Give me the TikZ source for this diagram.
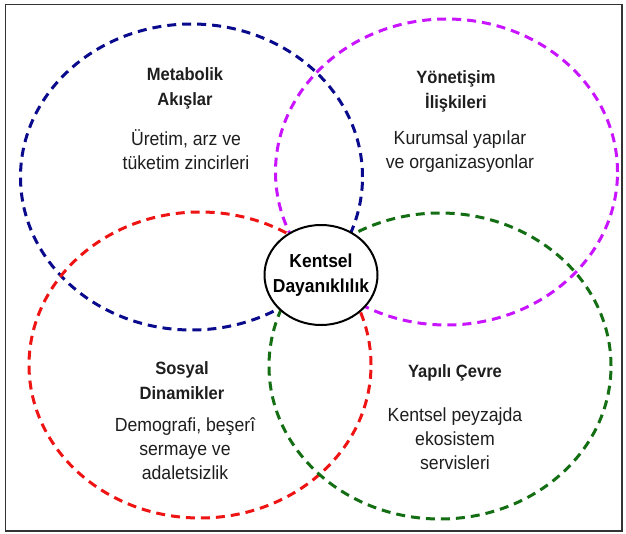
\documentclass[tikz,border=0pt]{standalone}
\usepackage{fontspec}
\setmainfont{Liberation Sans}[FakeStretch=0.93]
\usetikzlibrary{shapes.geometric}
\definecolor{cblue}{RGB}{10,10,140}
\definecolor{cmag}{RGB}{200,20,255}
\definecolor{cred}{RGB}{238,20,20}
\definecolor{cgreen}{RGB}{20,110,20}
\definecolor{ctext}{RGB}{30,30,30}
\tikzset{
  venn/.style={ellipse, draw, line width=3pt, dash pattern=on 9pt off 6pt, inner sep=0pt, minimum width=342pt, minimum height=306pt},
  ttl/.style={align=center, text=ctext, font=\fontsize{17.8}{25}\selectfont\bfseries},
  body/.style={align=center, text=ctext, font=\fontsize{19}{24}\selectfont},
}
\begin{document}
\begin{tikzpicture}[x=1pt,y=-1pt]
\useasboundingbox (0,0) rectangle (626,534);
\draw[line width=1.2pt, draw=black!80] (5.5,4.5) rectangle (622,531);
\node[venn, draw=cblue] (meta) at (191.5,177) {};
\node[venn, draw=cmag] (gov) at (446.5,172) {};
\node[venn, draw=cred] (soc) at (200,365) {};
\node[venn, draw=cgreen] (built) at (440,366) {};
\node[ellipse, draw, line width=2pt, fill=white, inner sep=0pt, minimum width=113pt, minimum height=100pt] (core) at (321,275) {};
\node[align=center, text=black, font=\fontsize{18.8}{25}\selectfont\bfseries] (coretext) at (core.center) {Kentsel\\Dayanıklılık};
\node[ttl] (metat) at (185,88.5) {Metabolik\\Akışlar};
\node[body] (metab) at (186,150) {Üretim, arz ve\\tüketim zincirleri};
\node[ttl] (govt) at (456,91) {Yönetişim\\İlişkileri};
\node[body] (govb) at (460,152) {Kurumsal yapılar\\ve organizasyonlar};
\node[ttl] (soct) at (182,380.5) {Sosyal\\Dinamikler};
\node[body] (socb) at (185,449) {Demografi, beşerî\\sermaye ve\\adaletsizlik};
\node[ttl] (builtt) at (455,373) {Yapılı Çevre};
\node[body] (builtb) at (455,438.5) {Kentsel peyzajda\\ekosistem\\servisleri};
\end{tikzpicture}
\end{document}
